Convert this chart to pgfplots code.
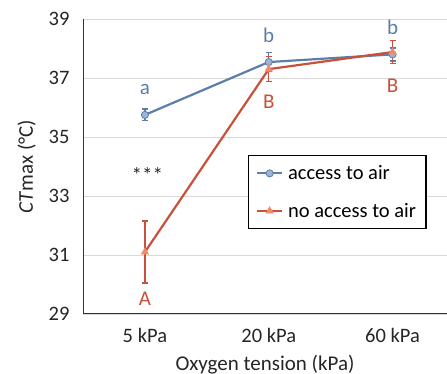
\documentclass[border=0pt]{standalone}
\usepackage{pgfplots}
\pgfplotsset{compat=1.18}
\usepackage{fontspec}
\setmainfont{Carlito}
\definecolor{bl}{HTML}{5A7FAA}
\definecolor{blf}{HTML}{9DB3D3}
\definecolor{rd}{HTML}{C9503A}
\definecolor{rdf}{HTML}{F08A6A}
\definecolor{gridc}{HTML}{D9D9D9}
\definecolor{txt}{HTML}{262626}
\begin{document}
\begin{tikzpicture}
\useasboundingbox (-83pt,-60pt) rectangle (364pt,314pt);
\begin{axis}[
  at={(0,0)}, anchor=south west,
  scale only axis, width=364pt, height=295pt,
  xmin=-0.5, xmax=2.44, ymin=29, ymax=39,
  xtick={0,1,2}, xticklabels={5 kPa,20 kPa,60 kPa},
  ytick={29,31,33,35,37,39},
  ymajorgrids, grid style={gridc, line width=0.8pt},
  axis x line*=bottom, axis y line*=left,
  axis line style={black!80, line width=1pt},
  major tick length=0pt,
  tick label style={font=\fontsize{20.5}{22}\selectfont, text=txt},
  yticklabel style={xshift=-10pt},
  xticklabel style={yshift=-11pt},
  /pgf/number format/assume math mode=true,
  xlabel={Oxygen tension (kPa)},
  ylabel={\textit{CT}max (°C)},
  label style={font=\fontsize{21}{22}\selectfont, text=txt},
  xlabel style={yshift=-5pt},
  ylabel style={yshift=6pt},
  legend style={at={(axis cs:0.83,34.39)}, anchor=north west, draw=black, line width=1.2pt,
    font=\fontsize{20.5}{22}\selectfont, row sep=18pt, inner xsep=8pt, inner ysep=8pt},
  legend cell align=left,
  legend image code/.code={\draw[mark repeat=2,mark phase=2,#1] plot coordinates {(0pt,0pt) (12.5pt,0pt) (25pt,0pt)};},
  legend image post style={line width=1.8pt},
  clip=false,
]
\addplot[bl, line width=2.2pt, mark=*, mark size=3.6pt, mark options={fill=blf, draw=bl, line width=0.8pt},
  error bars/.cd, y dir=both, y explicit, error bar style={line width=1.3pt, bl}, error mark options={rotate=90, mark size=3pt, line width=1.3pt, bl}]
  coordinates {(0,35.75) +- (0,0.2) (1,37.54) +- (0,0.32) (2,37.8) +- (0,0.22)};
\addlegendentry{\hspace*{3pt}access to air}
\addplot[rd, line width=2.2pt, mark=triangle*, mark size=4.2pt, mark options={fill=rdf, draw=rdf, line width=0.6pt},
  error bars/.cd, y dir=both, y explicit, error bar style={line width=1.3pt, rd}, error mark options={rotate=90, mark size=3pt, line width=1.3pt, rd}]
  coordinates {(0,31.1) +- (0,1.05) (1,37.3) +- (0,0.43) (2,37.88) +- (0,0.4)};
\addlegendentry{\hspace*{3pt}no access to air}
\node[text=bl, font=\fontsize{21}{22}\selectfont] at (axis cs:0,36.6) {a};
\node[text=bl, font=\fontsize{21}{22}\selectfont] at (axis cs:1,38.45) {b};
\node[text=bl, font=\fontsize{21}{22}\selectfont] at (axis cs:2,38.72) {b};
\node[text=rd, font=\fontsize{21}{22}\selectfont] at (axis cs:1,36.2) {B};
\node[text=rd, font=\fontsize{21}{22}\selectfont] at (axis cs:2,36.73) {B};
\node[text=rd, font=\fontsize{21}{22}\selectfont] at (axis cs:0,29.5) {A};
\node[text=txt, font=\fontsize{21}{22}\selectfont] at (axis cs:0.02,33.7) {***};
\end{axis}
\end{tikzpicture}
\end{document}
